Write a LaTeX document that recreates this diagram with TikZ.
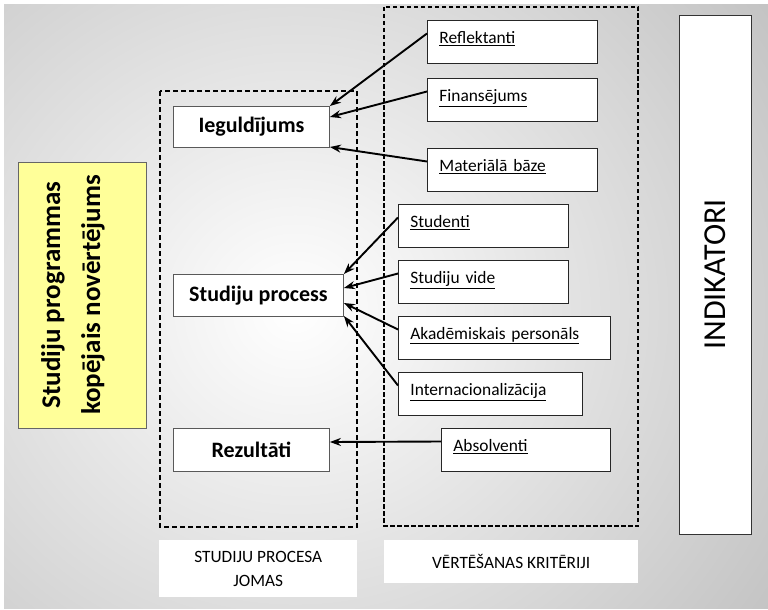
\documentclass[tikz,border=0pt]{standalone}
\usepackage{fontspec}
\setmainfont{Carlito}
\usetikzlibrary{arrows.meta}

\definecolor{bggray}{HTML}{C0C0C0}
\definecolor{noteyellow}{HTML}{FFFF99}

\tikzset{
  area/.style={draw=black!65, fill=white, line width=0.9pt, anchor=north west,
    font=\fontsize{22}{26}\selectfont\bfseries},
  crit/.style={draw=black!85, fill=white, line width=0.8pt, anchor=north west,
    align=left, inner xsep=12pt, inner ysep=0pt, text height=23pt, text depth=20pt,
    font=\fontsize{17.4}{21}\selectfont},
  frame/.style={dash pattern=on 5pt off 3pt, line width=1.3pt},
  caption/.style={fill=white, anchor=north west, align=center,
    font=\fontsize{17.3}{24}\selectfont},
  link/.style={->, line width=1.9pt},
}

\begin{document}
\begin{tikzpicture}[x=1pt, y=-1pt, >={Stealth[length=11pt,width=8pt]}]

\useasboundingbox (0,0) rectangle (768,610);

% background
\fill[bggray] (4,5) rectangle (768,608);
\begin{scope}
  \clip (4,5) rectangle (768,608);
  \shade[inner color=white, outer color=bggray] (295,310) ellipse [x radius=610, y radius=570];
\end{scope}

% dashed frames
\draw[frame] (160,91) rectangle (357,527);
\draw[frame, line width=2pt, dash pattern=on 4.5pt off 2.5pt] (384,7) rectangle (638,526);

\node[draw=black!60, fill=noteyellow, line width=0.9pt,
  minimum width=128pt, minimum height=266pt] (total) at (82,295) {};
\node[rotate=90, align=center, font=\fontsize{27}{40}\selectfont\bfseries]
  (total-text) at ([xshift=-9pt]total.center) {Studiju programmas\\kopējais novērtējums};

\node[area, minimum width=156pt, minimum height=41pt] (iegul) at (173,106) {Ieguldījums};
\node[area, minimum width=170pt, minimum height=42pt] (proc) at (173,274) {Studiju process};
\node[area, minimum width=156pt, minimum height=43pt] (rez) at (173,428) {Rezultāti};

\foreach \n/\x/\y/\w/\t in {
  refl/427/20/146/Reflektanti,
  fin/427/78/146/Finansējums,
  mat/427/148/146/Materiālā bāze,
  stud/398/204/146/Studenti,
  vide/398/260/146/Studiju vide,
  akad/398/316/188/Akadēmiskais personāls,
  intl/398/372/160/Internacionalizācija,
  abs/441/428/145/Absolventi}
  \node[crit, text width=\w pt] (\n) at (\x,\y) {\underline{\t}};

\foreach \s/\e/\d in {refl/iegul/0, fin/iegul/11, mat/iegul/41,
  stud/proc/0, vide/proc/14, akad/proc/29, intl/proc/42, abs/rez/14}
  \draw[link] ([yshift=-13.5pt]\s.north west) -- ([yshift=-\d pt]\e.north east);

\node[draw=black!80, fill=white, line width=0.9pt, rotate=90,
  minimum width=519pt, minimum height=72pt,
  font=\fontsize{32}{38}\selectfont] (indik) at (715,274.5) {INDIKATORI};

\node[caption, minimum width=198pt, minimum height=57pt] (areas-cap) at (159,540)
  {STUDIJU PROCESA\\JOMAS};
\node[caption, minimum width=254pt, minimum height=43pt] (crit-cap) at (384,540)
  {VĒRTĒŠANAS KRITĒRIJI};

\end{tikzpicture}
\end{document}
